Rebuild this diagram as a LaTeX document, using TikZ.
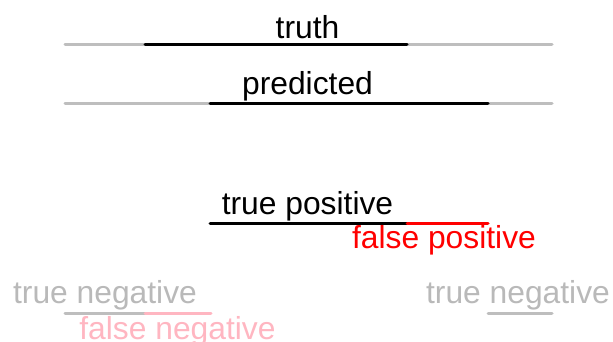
\documentclass[tikz,border=0pt]{standalone}
\usepackage{fontspec}
\setmainfont{Liberation Sans}
\definecolor{lgray}{RGB}{190,190,190}
\definecolor{tgray}{RGB}{185,185,185}
\definecolor{lpink}{RGB}{255,182,193}
\tikzset{
  lbl/.style={inner sep=0pt, anchor=base, font=\fontsize{31.8}{38}\selectfont},
  seg/.style={line width=3pt, line cap=round},
}
\begin{document}
\begin{tikzpicture}[x=1pt,y=-1pt]
\useasboundingbox (0,0) rectangle (613,342);
\clip (0,0) rectangle (613,342);
% truth
\coordinate (t0) at (65,45); \coordinate (t1) at (145,45);
\coordinate (t2) at (407,45); \coordinate (t3) at (552,45);
\draw[seg,lgray] (t0) -- (t3);
\draw[seg,black] (t1) -- (t2);
\node[lbl] (truth) at (307.5,39) {truth};
% predicted
\coordinate (p0) at (65,104); \coordinate (p1) at (210,104);
\coordinate (p2) at (488,104); \coordinate (p3) at (552,104);
\draw[seg,lgray] (p0) -- (p3);
\draw[seg,black] (p1) -- (p2);
\node[lbl] (pred) at (307.5,95) {predicted};
% true / false positive
\coordinate (a0) at (210,223); \coordinate (a1) at (407,223); \coordinate (a2) at (488,223);
\draw[seg,black] (a0) -- (a1);
\draw[seg,red] (a1) -- (a2);
\node[lbl] (tp) at (307.5,214) {true positive};
\node[lbl,text=red] (fp) at (444,248) {false positive};
% negatives
\coordinate (n0) at (65,313); \coordinate (n1) at (145,313); \coordinate (n2) at (211,313);
\coordinate (n3) at (488,313); \coordinate (n4) at (552,313);
\draw[seg,lgray] (n0) -- (n1);
\draw[seg,lpink] (n1) -- (n2);
\draw[seg,lgray] (n3) -- (n4);
\node[lbl,text=tgray] (tn1) at (105,303) {true negative};
\node[lbl,text=tgray] (tn2) at (518,303) {true negative};
\node[lbl,text=lpink] (fn) at (177.5,339) {false negative};
\end{tikzpicture}
\end{document}
